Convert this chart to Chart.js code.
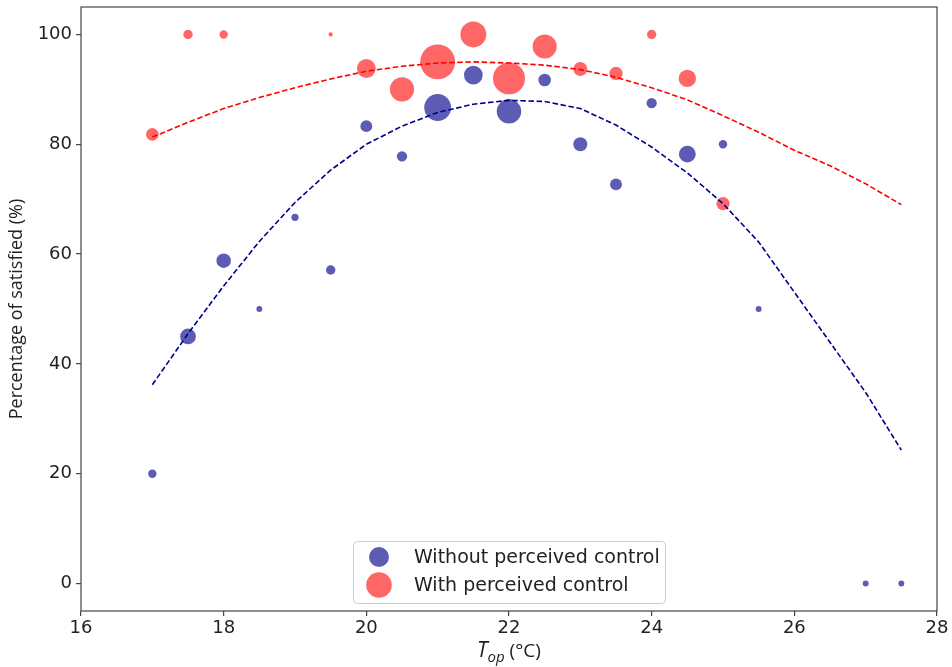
<!DOCTYPE html>
<html>
<head>
<meta charset="utf-8">
<script src="https://cdn.jsdelivr.net/npm/chart.js@4.4.1/dist/chart.umd.min.js"></script>
<style>
  html, body { margin: 0; padding: 0; background: #fff; }
  #wrap { width: 952px; height: 667px; position: relative; }
</style>
</head>
<body>
<div id="wrap"><canvas id="c" width="952" height="667"></canvas></div>
<script>
// ---- data ----
const xTicks = [16, 18, 20, 22, 24, 26, 28];
const yTicks = [0, 20, 40, 60, 80, 100];

// Without perceived control
const blueX = [17, 17.5, 18, 18.5, 19, 19.5, 20, 20.5, 21, 21.5, 22, 22.5, 23, 23.5, 24, 24.5, 25, 25.5, 27, 27.5];
const blueY = [20, 45, 58.8, 50, 66.7, 57.1, 83.3, 77.8, 86.7, 92.6, 86, 91.7, 80, 72.7, 87.5, 78.2, 80, 50, 0, 0];
const blueN = [4, 14, 12, 2, 3, 5, 8, 6, 41, 20, 34, 9, 11, 8, 6, 16, 4, 2, 2, 2];

// With perceived control
const redX = [17, 17.5, 18, 19.5, 20, 20.5, 21, 21.5, 22, 22.5, 23, 23.5, 24, 24.5, 25];
const redY = [81.8, 100, 100, 100, 93.8, 90, 95, 100, 92, 97.8, 93.7, 92.9, 100, 92, 69.2];
const redN = [9, 5, 4, 1, 20, 33, 69, 38, 58, 33, 11, 10, 5, 17, 10];

// Fitted curves (dashed)
const blueFitX = [17, 17.5, 18, 18.5, 19, 19.5, 20, 20.5, 21, 21.5, 22, 22.5, 23, 23.5, 24, 24.5, 25, 25.5, 27, 27.5];
const blueFitY = [36.2, 45.5, 54.2, 62.3, 69.4, 75.3, 80.0, 83.3, 85.8, 87.3, 88.0, 87.8, 86.5, 83.5, 79.5, 74.8, 69.2, 62.2, 34.8, 24.3];
const redFitX = [17, 17.5, 18, 18.5, 19, 19.5, 20, 20.5, 21, 21.5, 22, 22.5, 23, 23.5, 24, 24.5, 25, 25.5, 26, 26.5, 27, 27.5];
const redFitY = [81.3, 84.0, 86.5, 88.5, 90.3, 91.9, 93.3, 94.2, 94.8, 95.0, 94.8, 94.4, 93.6, 92.2, 90.3, 88.1, 85.2, 82.2, 78.9, 76.1, 72.8, 69.0];

const seriesNames = ['Without perceived control', 'With perceived control'];
const yTitle = 'Percentage of satisfied (%)';

// ---- styling ----
const BLUE_FILL = 'rgba(0,0,139,0.64)';
const RED_FILL = 'rgba(255,0,0,0.6)';
const sizeToRadius = n => 2.1 * Math.sqrt(n);

const bubbles = (xs, ys, ns) => xs.map((x, i) => ({ x: x, y: ys[i], r: sizeToRadius(ns[i]) }));
const pts = (xs, ys) => xs.map((x, i) => ({ x: x, y: ys[i] }));

const frameAndLabels = {
  id: 'frameAndLabels',
  afterDraw(chart) {
    const ctx = chart.ctx;
    const a = chart.chartArea;
    ctx.save();
    // frame
    ctx.strokeStyle = '#444';
    ctx.lineWidth = 1.2;
    ctx.strokeRect(a.left, a.top, a.right - a.left, a.bottom - a.top);

    // x-axis title: T_op (°C)
    const cx = (a.left + a.right) / 2;
    const base = 657;
    const fT = 'italic 21px "Open Sans"';
    const fSub = 'italic 15px "Open Sans"';
    const fR = '19px "Open Sans"';
    ctx.font = fT; const wT = ctx.measureText('T').width;
    ctx.font = fSub; const wS = ctx.measureText('op').width;
    ctx.font = fR; const wR = ctx.measureText(' (°C)').width;
    let x = cx - (wT + wS + wR) / 2;
    ctx.fillStyle = '#222';
    ctx.textBaseline = 'alphabetic';
    ctx.textAlign = 'left';
    ctx.font = fT; ctx.fillText('T', x, base); x += wT;
    ctx.font = fSub; ctx.fillText('op', x, base + 5); x += wS;
    ctx.font = fR; ctx.fillText(' (°C)', x, base);

    // legend
    const lw = 312, lh = 62;
    const lx = cx - lw / 2, ly = a.bottom - 8 - lh;
    ctx.beginPath();
    if (ctx.roundRect) ctx.roundRect(lx + 0.5, ly + 0.5, lw, lh, 4); else ctx.rect(lx + 0.5, ly + 0.5, lw, lh);
    ctx.fillStyle = 'rgba(255,255,255,0.85)';
    ctx.fill();
    ctx.strokeStyle = '#cccccc';
    ctx.lineWidth = 1;
    ctx.stroke();
    const rows = [
      { color: BLUE_FILL, r: 10, y: ly + 16, text: seriesNames[0] },
      { color: RED_FILL, r: 12.8, y: ly + 44, text: seriesNames[1] }
    ];
    rows.forEach(row => {
      ctx.beginPath();
      ctx.arc(lx + 26, row.y, row.r, 0, Math.PI * 2);
      ctx.fillStyle = row.color;
      ctx.fill();
      ctx.fillStyle = '#222';
      ctx.font = '19px "DejaVu Sans"';
      ctx.textBaseline = 'middle';
      ctx.fillText(row.text, lx + 61, row.y + 1);
    });
    ctx.restore();
  }
};

new Chart(document.getElementById('c'), {
  type: 'bubble',
  data: {
    datasets: [
      { type: 'line', label: 'fit-blue', data: pts(blueFitX, blueFitY), borderColor: '#00008B', borderWidth: 1.6, borderDash: [5.5, 2.6], pointRadius: 0, fill: false, tension: 0, order: 0 },
      { type: 'line', label: 'fit-red', data: pts(redFitX, redFitY), borderColor: '#FF0000', borderWidth: 1.6, borderDash: [5.5, 2.6], pointRadius: 0, fill: false, tension: 0, order: 0 },
      { label: seriesNames[1], data: bubbles(redX, redY, redN), backgroundColor: RED_FILL, borderWidth: 0, order: 1 },
      { label: seriesNames[0], data: bubbles(blueX, blueY, blueN), backgroundColor: BLUE_FILL, borderWidth: 0, order: 2 }
    ]
  },
  options: {
    responsive: false,
    animation: false,
    events: [],
    layout: { autoPadding: false, padding: { top: 7, right: 15, left: 0, bottom: 0 } },
    plugins: { legend: { display: false }, tooltip: { enabled: false } },
    scales: {
      x: {
        type: 'linear', min: 16, max: 28,
        afterBuildTicks: s => { s.ticks = xTicks.map(v => ({ value: v })); },
        afterFit: s => { s.height = 56; s.paddingLeft = 0; s.paddingRight = 0; },
        ticks: { font: { family: 'DejaVu Sans', size: 18 }, color: '#222', padding: 2, maxRotation: 0, autoSkip: false },
        grid: { drawOnChartArea: false, drawTicks: true, tickLength: 5, color: '#444', lineWidth: 1.2 },
        border: { display: false }
      },
      y: {
        type: 'linear', min: -5, max: 105,
        afterBuildTicks: s => { s.ticks = yTicks.map(v => ({ value: v })); },
        afterFit: s => { s.width = 81; s.paddingTop = 0; s.paddingBottom = 0; },
        ticks: { font: { family: 'DejaVu Sans', size: 18 }, color: '#222', padding: 4, autoSkip: false },
        grid: { drawOnChartArea: false, drawTicks: true, tickLength: 5, color: '#444', lineWidth: 1.2 },
        border: { display: false },
        title: { display: true, text: yTitle, font: { family: 'Open Sans', size: 18 }, color: '#222', padding: { top: 6, bottom: 0 } }
      }
    }
  },
  plugins: [frameAndLabels]
});
</script>
</body>
</html>
